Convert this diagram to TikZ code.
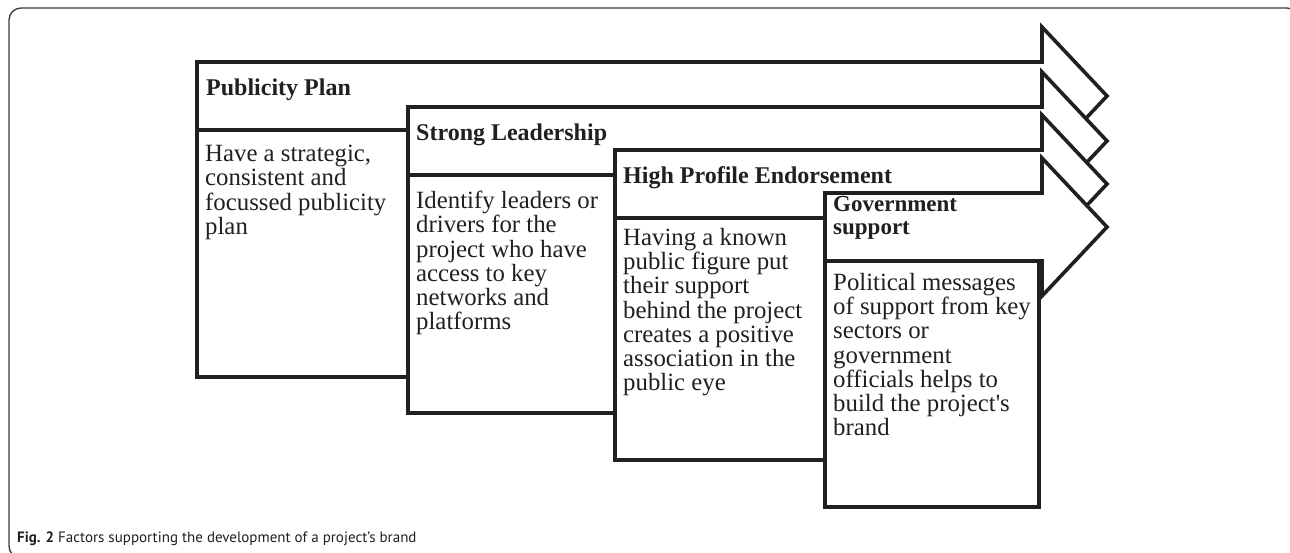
\documentclass[tikz,border=0pt]{standalone}
\usepackage{fontspec}
\setmainfont{Liberation Serif}
\setsansfont{PT Sans}
\definecolor{inkblack}{HTML}{231F20}
\definecolor{framegray}{HTML}{3A3A3A}

\begin{document}
\begin{tikzpicture}[x=1pt, y=-1pt,
  card/.style={fill=white, draw=inkblack, line width=3.6pt, line join=miter},
  % text is placed by the baseline of its first line
  cardtext/.style={anchor=north west, yshift=20pt, inner sep=0pt, align=left, text=inkblack,
    execute at begin node={\rule{0pt}{20pt}}},
  head/.style={cardtext, font=\fontsize{24}{24}\selectfont\bfseries},
  body/.style={cardtext, font=\fontsize{24.8}{24.2}\selectfont}]
  \useasboundingbox (0,0) rectangle (1290,553);

  % Outer frame (runs off the page on the right and bottom)
  \draw[framegray, line width=1.3pt, rounded corners=12pt] (9,8) rectangle (1299,558);

  % Publicity Plan
  \draw[card] (197,62) -- (1042,62) -- (1042,27) -- (1107,96) -- (1042,165) -- (1042,130) -- (197,130) -- cycle;
  \draw[card] (197,130) rectangle (408,377);

  % Strong Leadership
  \draw[card] (408,107) -- (1042,107) -- (1042,72) -- (1107,141) -- (1042,210) -- (1042,175) -- (408,175) -- cycle;
  \draw[card] (408,175) rectangle (615,413);

  % High Profile Endorsement
  \draw[card] (615,150) -- (1042,150) -- (1042,115) -- (1107,184) -- (1042,253) -- (1042,218) -- (615,218) -- cycle;
  \draw[card] (615,218) rectangle (825,460);

  % Government support
  \draw[card] (825,193) -- (1042,193) -- (1042,158) -- (1107,227) -- (1042,296) -- (1042,261) -- (825,261) -- cycle;
  \draw[card] (825,261) rectangle (1039,507);

  % Headers
  \node[head] (plan) at (206,95) {Publicity Plan};
  \node[head] (lead) at (416,140) {Strong Leadership};
  \node[head] (endorse) at (623,183) {High Profile Endorsement};
  \node[head, font=\fontsize{23}{23}\selectfont\bfseries] (gov) at (833,216) {Government\\support};

  % Descriptions
  \node[body] (plantext) at (205,165) {Have a strategic,\\consistent and\\focussed publicity\\plan};
  \node[body] (leadtext) at (416,211) {Identify leaders or\\drivers for the\\project who have\\access to key\\networks and\\platforms};
  \node[body] (endorsetext) at (623,248) {Having a known\\public figure put\\their support\\behind the project\\creates a positive\\association in the\\public eye};
  \node[body] (govtext) at (833,293) {Political messages\\of support from key\\sectors or\\government\\officials helps to\\build the project\textquotesingle s\\brand};

  % Caption
  \node[anchor=base west, inner sep=0pt, text=inkblack, font=\sffamily\fontsize{15}{18}\selectfont]
    (caption) at (17,542) {\textbf{Fig. 2} Factors supporting the development of a project’s brand};
\end{tikzpicture}
\end{document}
